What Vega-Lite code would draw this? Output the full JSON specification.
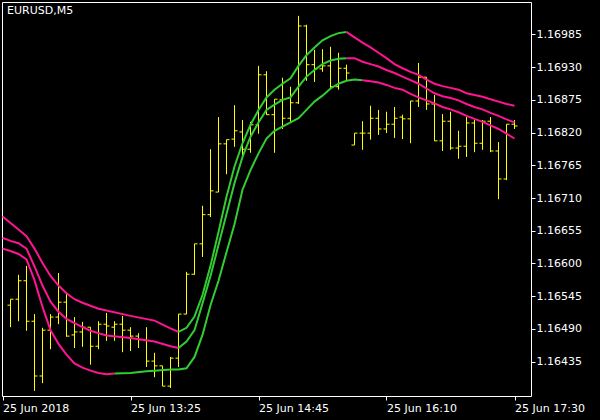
{
  "$schema": "https://vega.github.io/schema/vega-lite/v6.json",
  "width": 529,
  "height": 394,
  "autosize": {"type": "none"},
  "padding": {"left": 2, "top": 2, "right": 69, "bottom": 24},
  "background": "black",
  "config": {
    "view": {"stroke": "white", "strokeWidth": 1},
    "axis": {"grid": false, "domain": false, "tickColor": "white", "labelColor": "white", "labelFont": "DejaVu Sans", "labelFontSize": 11, "tickSize": 4, "labelOverlap": false, "labelBound": false}
  },
  "title": {"text": "EURUSD,M5", "anchor": "start", "frame": "group", "orient": "top", "offset": 0, "dx": 5, "dy": 14, "color": "white", "font": "DejaVu Sans", "fontSize": 11, "fontWeight": "normal"},
  "datasets": {
    "bars": [
      {"i":0,"o":1.16530,"h":1.16540,"l":1.16493,"c":1.16540},
      {"i":1,"o":1.16540,"h":1.16581,"l":1.16503,"c":1.16571},
      {"i":2,"o":1.16571,"h":1.16596,"l":1.16487,"c":1.16503},
      {"i":3,"o":1.16503,"h":1.16515,"l":1.16386,"c":1.16411},
      {"i":4,"o":1.16411,"h":1.16492,"l":1.16399,"c":1.16488},
      {"i":5,"o":1.16488,"h":1.16515,"l":1.16456,"c":1.16510},
      {"i":6,"o":1.16510,"h":1.16584,"l":1.16498,"c":1.16535},
      {"i":7,"o":1.16535,"h":1.16552,"l":1.16477,"c":1.16478},
      {"i":8,"o":1.16480,"h":1.16510,"l":1.16458,"c":1.16485},
      {"i":9,"o":1.16485,"h":1.16502,"l":1.16460,"c":1.16493},
      {"i":10,"o":1.16493,"h":1.16493,"l":1.16430,"c":1.16461},
      {"i":11,"o":1.16461,"h":1.16503,"l":1.16456,"c":1.16498},
      {"i":12,"o":1.16498,"h":1.16517,"l":1.16470,"c":1.16495},
      {"i":13,"o":1.16493,"h":1.16503,"l":1.16470,"c":1.16498},
      {"i":14,"o":1.16498,"h":1.16512,"l":1.16451,"c":1.16488},
      {"i":15,"o":1.16488,"h":1.16493,"l":1.16453,"c":1.16478},
      {"i":16,"o":1.16478,"h":1.16483,"l":1.16458,"c":1.16472},
      {"i":17,"o":1.16472,"h":1.16493,"l":1.16426,"c":1.16436},
      {"i":18,"o":1.16436,"h":1.16450,"l":1.16409,"c":1.16428},
      {"i":19,"o":1.16428,"h":1.16428,"l":1.16394,"c":1.16394},
      {"i":20,"o":1.16394,"h":1.16443,"l":1.16391,"c":1.16441},
      {"i":21,"o":1.16441,"h":1.16515,"l":1.16426,"c":1.16515},
      {"i":22,"o":1.16515,"h":1.16586,"l":1.16515,"c":1.16582},
      {"i":23,"o":1.16582,"h":1.16633,"l":1.16581,"c":1.16633},
      {"i":24,"o":1.16633,"h":1.16697,"l":1.16611,"c":1.16682},
      {"i":25,"o":1.16682,"h":1.16792,"l":1.16678,"c":1.16722},
      {"i":26,"o":1.16720,"h":1.16846,"l":1.16720,"c":1.16801},
      {"i":27,"o":1.16801,"h":1.16808,"l":1.16750,"c":1.16808},
      {"i":28,"o":1.16809,"h":1.16866,"l":1.16796,"c":1.16823},
      {"i":29,"o":1.16821,"h":1.16841,"l":1.16776,"c":1.16792},
      {"i":30,"o":1.16792,"h":1.16838,"l":1.16786,"c":1.16833},
      {"i":31,"o":1.16833,"h":1.16932,"l":1.16818,"c":1.16917},
      {"i":32,"o":1.16917,"h":1.16923,"l":1.16850,"c":1.16850},
      {"i":33,"o":1.16850,"h":1.16876,"l":1.16786,"c":1.16876},
      {"i":34,"o":1.16875,"h":1.16912,"l":1.16826,"c":1.16844},
      {"i":35,"o":1.16844,"h":1.16897,"l":1.16836,"c":1.16870},
      {"i":36,"o":1.16870,"h":1.17016,"l":1.16868,"c":1.16999},
      {"i":37,"o":1.16999,"h":1.17001,"l":1.16907,"c":1.16934},
      {"i":38,"o":1.16934,"h":1.16959,"l":1.16905,"c":1.16927},
      {"i":39,"o":1.16927,"h":1.16960,"l":1.16922,"c":1.16932},
      {"i":40,"o":1.16932,"h":1.16964,"l":1.16893,"c":1.16897},
      {"i":41,"o":1.16897,"h":1.16954,"l":1.16892,"c":1.16928},
      {"i":42,"o":1.16928,"h":1.16934,"l":1.16907,"c":1.16920},
      {"i":43,"o":1.16799,"h":1.16819,"l":1.16799,"c":1.16819},
      {"i":44,"o":1.16819,"h":1.16839,"l":1.16791,"c":1.16819},
      {"i":45,"o":1.16819,"h":1.16865,"l":1.16808,"c":1.16844},
      {"i":46,"o":1.16844,"h":1.16858,"l":1.16816,"c":1.16826},
      {"i":47,"o":1.16826,"h":1.16855,"l":1.16819,"c":1.16834},
      {"i":48,"o":1.16834,"h":1.16863,"l":1.16811,"c":1.16844},
      {"i":49,"o":1.16846,"h":1.16850,"l":1.16809,"c":1.16843},
      {"i":50,"o":1.16843,"h":1.16873,"l":1.16802,"c":1.16873},
      {"i":51,"o":1.16873,"h":1.16937,"l":1.16863,"c":1.16913},
      {"i":52,"o":1.16913,"h":1.16913,"l":1.16858,"c":1.16868},
      {"i":53,"o":1.16868,"h":1.16883,"l":1.16806,"c":1.16806},
      {"i":54,"o":1.16806,"h":1.16851,"l":1.16789,"c":1.16839},
      {"i":55,"o":1.16839,"h":1.16855,"l":1.16791,"c":1.16794},
      {"i":56,"o":1.16794,"h":1.16823,"l":1.16776,"c":1.16797},
      {"i":57,"o":1.16797,"h":1.16846,"l":1.16779,"c":1.16836},
      {"i":58,"o":1.16836,"h":1.16841,"l":1.16787,"c":1.16802},
      {"i":59,"o":1.16802,"h":1.16841,"l":1.16791,"c":1.16839},
      {"i":60,"o":1.16839,"h":1.16846,"l":1.16787,"c":1.16789},
      {"i":61,"o":1.16789,"h":1.16804,"l":1.16708,"c":1.16742},
      {"i":62,"o":1.16742,"h":1.16834,"l":1.16740,"c":1.16834},
      {"i":63,"o":1.16834,"h":1.16841,"l":1.16826,"c":1.16831}
    ],
    "bands": [
      {"s":"U1","d":"dn","i":-1,"v":1.16679},{"s":"U1","d":"dn","i":0,"v":1.16668},{"s":"U1","d":"dn","i":1,"v":1.16657},{"s":"U1","d":"dn","i":2,"v":1.16646},{"s":"U1","d":"dn","i":3,"v":1.16625},{"s":"U1","d":"dn","i":4,"v":1.16601},{"s":"U1","d":"dn","i":5,"v":1.16579},{"s":"U1","d":"dn","i":6,"v":1.16563},{"s":"U1","d":"dn","i":7,"v":1.16550},{"s":"U1","d":"dn","i":8,"v":1.16540},{"s":"U1","d":"dn","i":9,"v":1.16534},{"s":"U1","d":"dn","i":10,"v":1.16529},{"s":"U1","d":"dn","i":11,"v":1.16524},{"s":"U1","d":"dn","i":12,"v":1.16521},{"s":"U1","d":"dn","i":15,"v":1.16512},{"s":"U1","d":"dn","i":18,"v":1.16504},{"s":"U1","d":"dn","i":20,"v":1.16491},{"s":"U1","d":"dn","i":21,"v":1.16485},
      {"s":"U2","d":"up","i":21,"v":1.16485},{"s":"U2","d":"up","i":22,"v":1.16492},{"s":"U2","d":"up","i":23,"v":1.16511},{"s":"U2","d":"up","i":24,"v":1.16547},{"s":"U2","d":"up","i":25,"v":1.16596},{"s":"U2","d":"up","i":26,"v":1.16653},{"s":"U2","d":"up","i":27,"v":1.16712},{"s":"U2","d":"up","i":28,"v":1.16763},{"s":"U2","d":"up","i":29,"v":1.16802},{"s":"U2","d":"up","i":30,"v":1.16833},{"s":"U2","d":"up","i":31,"v":1.16858},{"s":"U2","d":"up","i":32,"v":1.16879},{"s":"U2","d":"up","i":33,"v":1.16892},{"s":"U2","d":"up","i":34,"v":1.16902},{"s":"U2","d":"up","i":35,"v":1.16911},{"s":"U2","d":"up","i":36,"v":1.16932},{"s":"U2","d":"up","i":37,"v":1.16950},{"s":"U2","d":"up","i":38,"v":1.16963},{"s":"U2","d":"up","i":39,"v":1.16975},{"s":"U2","d":"up","i":40,"v":1.16982},{"s":"U2","d":"up","i":41,"v":1.16987},{"s":"U2","d":"up","i":42,"v":1.16989},
      {"s":"U3","d":"dn","i":42,"v":1.16989},{"s":"U3","d":"dn","i":43,"v":1.16980},{"s":"U3","d":"dn","i":44,"v":1.16971},{"s":"U3","d":"dn","i":45,"v":1.16963},{"s":"U3","d":"dn","i":46,"v":1.16954},{"s":"U3","d":"dn","i":47,"v":1.16945},{"s":"U3","d":"dn","i":48,"v":1.16935},{"s":"U3","d":"dn","i":49,"v":1.16928},{"s":"U3","d":"dn","i":50,"v":1.16922},{"s":"U3","d":"dn","i":51,"v":1.16917},{"s":"U3","d":"dn","i":52,"v":1.16909},{"s":"U3","d":"dn","i":53,"v":1.16902},{"s":"U3","d":"dn","i":54,"v":1.16898},{"s":"U3","d":"dn","i":55,"v":1.16895},{"s":"U3","d":"dn","i":56,"v":1.16892},{"s":"U3","d":"dn","i":57,"v":1.16886},{"s":"U3","d":"dn","i":58,"v":1.16883},{"s":"U3","d":"dn","i":59,"v":1.16880},{"s":"U3","d":"dn","i":60,"v":1.16876},{"s":"U3","d":"dn","i":61,"v":1.16872},{"s":"U3","d":"dn","i":62,"v":1.16868},{"s":"U3","d":"dn","i":63,"v":1.16865},
      {"s":"M1","d":"dn","i":-1,"v":1.16643},{"s":"M1","d":"dn","i":0,"v":1.16638},{"s":"M1","d":"dn","i":1,"v":1.16634},{"s":"M1","d":"dn","i":2,"v":1.16625},{"s":"M1","d":"dn","i":3,"v":1.16595},{"s":"M1","d":"dn","i":4,"v":1.16563},{"s":"M1","d":"dn","i":5,"v":1.16536},{"s":"M1","d":"dn","i":6,"v":1.16519},{"s":"M1","d":"dn","i":7,"v":1.16507},{"s":"M1","d":"dn","i":8,"v":1.16500},{"s":"M1","d":"dn","i":9,"v":1.16493},{"s":"M1","d":"dn","i":10,"v":1.16487},{"s":"M1","d":"dn","i":11,"v":1.16483},{"s":"M1","d":"dn","i":12,"v":1.16479},{"s":"M1","d":"dn","i":15,"v":1.16475},{"s":"M1","d":"dn","i":18,"v":1.16469},{"s":"M1","d":"dn","i":20,"v":1.16461},{"s":"M1","d":"dn","i":21,"v":1.16458},
      {"s":"M2","d":"up","i":21,"v":1.16458},{"s":"M2","d":"up","i":22,"v":1.16469},{"s":"M2","d":"up","i":23,"v":1.16488},{"s":"M2","d":"up","i":24,"v":1.16533},{"s":"M2","d":"up","i":25,"v":1.16579},{"s":"M2","d":"up","i":26,"v":1.16631},{"s":"M2","d":"up","i":27,"v":1.16683},{"s":"M2","d":"up","i":28,"v":1.16735},{"s":"M2","d":"up","i":29,"v":1.16779},{"s":"M2","d":"up","i":30,"v":1.16813},{"s":"M2","d":"up","i":31,"v":1.16837},{"s":"M2","d":"up","i":32,"v":1.16858},{"s":"M2","d":"up","i":33,"v":1.16867},{"s":"M2","d":"up","i":34,"v":1.16875},{"s":"M2","d":"up","i":35,"v":1.16879},{"s":"M2","d":"up","i":36,"v":1.16897},{"s":"M2","d":"up","i":37,"v":1.16914},{"s":"M2","d":"up","i":38,"v":1.16925},{"s":"M2","d":"up","i":39,"v":1.16935},{"s":"M2","d":"up","i":40,"v":1.16941},{"s":"M2","d":"up","i":41,"v":1.16944},{"s":"M2","d":"up","i":42,"v":1.16945},
      {"s":"M3","d":"dn","i":42,"v":1.16945},{"s":"M3","d":"dn","i":43,"v":1.16945},{"s":"M3","d":"dn","i":44,"v":1.16939},{"s":"M3","d":"dn","i":45,"v":1.16935},{"s":"M3","d":"dn","i":46,"v":1.16931},{"s":"M3","d":"dn","i":47,"v":1.16925},{"s":"M3","d":"dn","i":48,"v":1.16920},{"s":"M3","d":"dn","i":49,"v":1.16914},{"s":"M3","d":"dn","i":50,"v":1.16908},{"s":"M3","d":"dn","i":51,"v":1.16902},{"s":"M3","d":"dn","i":52,"v":1.16894},{"s":"M3","d":"dn","i":53,"v":1.16886},{"s":"M3","d":"dn","i":54,"v":1.16881},{"s":"M3","d":"dn","i":55,"v":1.16878},{"s":"M3","d":"dn","i":56,"v":1.16874},{"s":"M3","d":"dn","i":57,"v":1.16868},{"s":"M3","d":"dn","i":58,"v":1.16863},{"s":"M3","d":"dn","i":59,"v":1.16859},{"s":"M3","d":"dn","i":60,"v":1.16853},{"s":"M3","d":"dn","i":61,"v":1.16848},{"s":"M3","d":"dn","i":62,"v":1.16842},{"s":"M3","d":"dn","i":63,"v":1.16837},
      {"s":"L1","d":"dn","i":-1,"v":1.16625},{"s":"L1","d":"dn","i":0,"v":1.16621},{"s":"L1","d":"dn","i":1,"v":1.16616},{"s":"L1","d":"dn","i":2,"v":1.16607},{"s":"L1","d":"dn","i":3,"v":1.16572},{"s":"L1","d":"dn","i":4,"v":1.16527},{"s":"L1","d":"dn","i":5,"v":1.16488},{"s":"L1","d":"dn","i":6,"v":1.16465},{"s":"L1","d":"dn","i":7,"v":1.16447},{"s":"L1","d":"dn","i":8,"v":1.16432},{"s":"L1","d":"dn","i":9,"v":1.16425},{"s":"L1","d":"dn","i":10,"v":1.16420},{"s":"L1","d":"dn","i":11,"v":1.16416},{"s":"L1","d":"dn","i":12,"v":1.16414},{"s":"L1","d":"dn","i":13,"v":1.16415},
      {"s":"L2","d":"up","i":13,"v":1.16415},{"s":"L2","d":"up","i":15,"v":1.16416},{"s":"L2","d":"up","i":17,"v":1.16419},{"s":"L2","d":"up","i":18,"v":1.16420},{"s":"L2","d":"up","i":20,"v":1.16422},{"s":"L2","d":"up","i":21,"v":1.16422},{"s":"L2","d":"up","i":22,"v":1.16424},{"s":"L2","d":"up","i":23,"v":1.16443},{"s":"L2","d":"up","i":24,"v":1.16480},{"s":"L2","d":"up","i":25,"v":1.16530},{"s":"L2","d":"up","i":26,"v":1.16571},{"s":"L2","d":"up","i":27,"v":1.16619},{"s":"L2","d":"up","i":28,"v":1.16666},{"s":"L2","d":"up","i":29,"v":1.16724},{"s":"L2","d":"up","i":30,"v":1.16757},{"s":"L2","d":"up","i":31,"v":1.16785},{"s":"L2","d":"up","i":32,"v":1.16810},{"s":"L2","d":"up","i":33,"v":1.16823},{"s":"L2","d":"up","i":34,"v":1.16830},{"s":"L2","d":"up","i":35,"v":1.16837},{"s":"L2","d":"up","i":36,"v":1.16844},{"s":"L2","d":"up","i":37,"v":1.16858},{"s":"L2","d":"up","i":38,"v":1.16872},{"s":"L2","d":"up","i":39,"v":1.16882},{"s":"L2","d":"up","i":40,"v":1.16894},{"s":"L2","d":"up","i":41,"v":1.16902},{"s":"L2","d":"up","i":42,"v":1.16907},{"s":"L2","d":"up","i":43,"v":1.16909},{"s":"L2","d":"up","i":44,"v":1.16908},
      {"s":"L3","d":"dn","i":44,"v":1.16908},{"s":"L3","d":"dn","i":45,"v":1.16906},{"s":"L3","d":"dn","i":46,"v":1.16904},{"s":"L3","d":"dn","i":47,"v":1.16900},{"s":"L3","d":"dn","i":48,"v":1.16895},{"s":"L3","d":"dn","i":49,"v":1.16892},{"s":"L3","d":"dn","i":50,"v":1.16885},{"s":"L3","d":"dn","i":51,"v":1.16879},{"s":"L3","d":"dn","i":52,"v":1.16874},{"s":"L3","d":"dn","i":53,"v":1.16869},{"s":"L3","d":"dn","i":54,"v":1.16863},{"s":"L3","d":"dn","i":55,"v":1.16859},{"s":"L3","d":"dn","i":56,"v":1.16854},{"s":"L3","d":"dn","i":57,"v":1.16848},{"s":"L3","d":"dn","i":58,"v":1.16843},{"s":"L3","d":"dn","i":59,"v":1.16838},{"s":"L3","d":"dn","i":60,"v":1.16832},{"s":"L3","d":"dn","i":61,"v":1.16826},{"s":"L3","d":"dn","i":62,"v":1.16818},{"s":"L3","d":"dn","i":63,"v":1.16810}
    ]
  },
  "resolve": {"scale": {"color": "independent"}},
  "layer": [
    {
      "data": {"name": "bars"},
      "mark": {"type": "rule", "color": "#FFFF00", "strokeWidth": 1},
      "encoding": {
        "x": {"field": "i", "type": "quantitative", "scale": {"domain": [-1.0625, 65.0625], "nice": false, "zero": false},
              "axis": {"orient": "bottom", "title": null, "values": [-1, 15, 31, 47, 63], "tickCount": 20, "labelAlign": "left", "labelBaseline": "top", "labelPadding": 2, "labelOffset": 0, "labelOverlap": false,
                       "labelExpr": "datum.value == -1 ? '25 Jun 2018' : datum.value == 15 ? '25 Jun 13:25' : datum.value == 31 ? '25 Jun 14:45' : datum.value == 47 ? '25 Jun 16:10' : '25 Jun 17:30'"}},
        "y": {"field": "l", "type": "quantitative", "scale": {"domain": [1.163774, 1.170393], "nice": false, "zero": false},
              "axis": {"orient": "right", "title": null, "values": [1.16435, 1.16490, 1.16545, 1.16600, 1.16655, 1.16710, 1.16765, 1.16820, 1.16875, 1.16930, 1.16985], "tickCount": 30, "format": ".5f", "labelPadding": 1, "labelBaseline": "middle", "labelOverlap": false, "labelFlush": false}},
        "y2": {"field": "h"}
      }
    },
    {
      "data": {"name": "bars"},
      "mark": {"type": "rule", "color": "#FFFF00", "strokeWidth": 1, "xOffset": -3},
      "encoding": {
        "x": {"field": "i", "type": "quantitative"},
        "x2": {"field": "i"},
        "y": {"field": "o", "type": "quantitative"}
      }
    },
    {
      "data": {"name": "bars"},
      "mark": {"type": "rule", "color": "#FFFF00", "strokeWidth": 1, "x2Offset": 3},
      "encoding": {
        "x": {"field": "i", "type": "quantitative"},
        "x2": {"field": "i"},
        "y": {"field": "c", "type": "quantitative"}
      }
    },
    {
      "data": {"name": "bands"},
      "mark": {"type": "line", "strokeWidth": 2, "clip": true},
      "encoding": {
        "x": {"field": "i", "type": "quantitative"},
        "y": {"field": "v", "type": "quantitative"},
        "detail": {"field": "s"},
        "color": {"field": "d", "type": "nominal", "scale": {"domain": ["dn", "up"], "range": ["#FF1493", "#32CD32"]}, "legend": null}
      }
    }
  ]
}
